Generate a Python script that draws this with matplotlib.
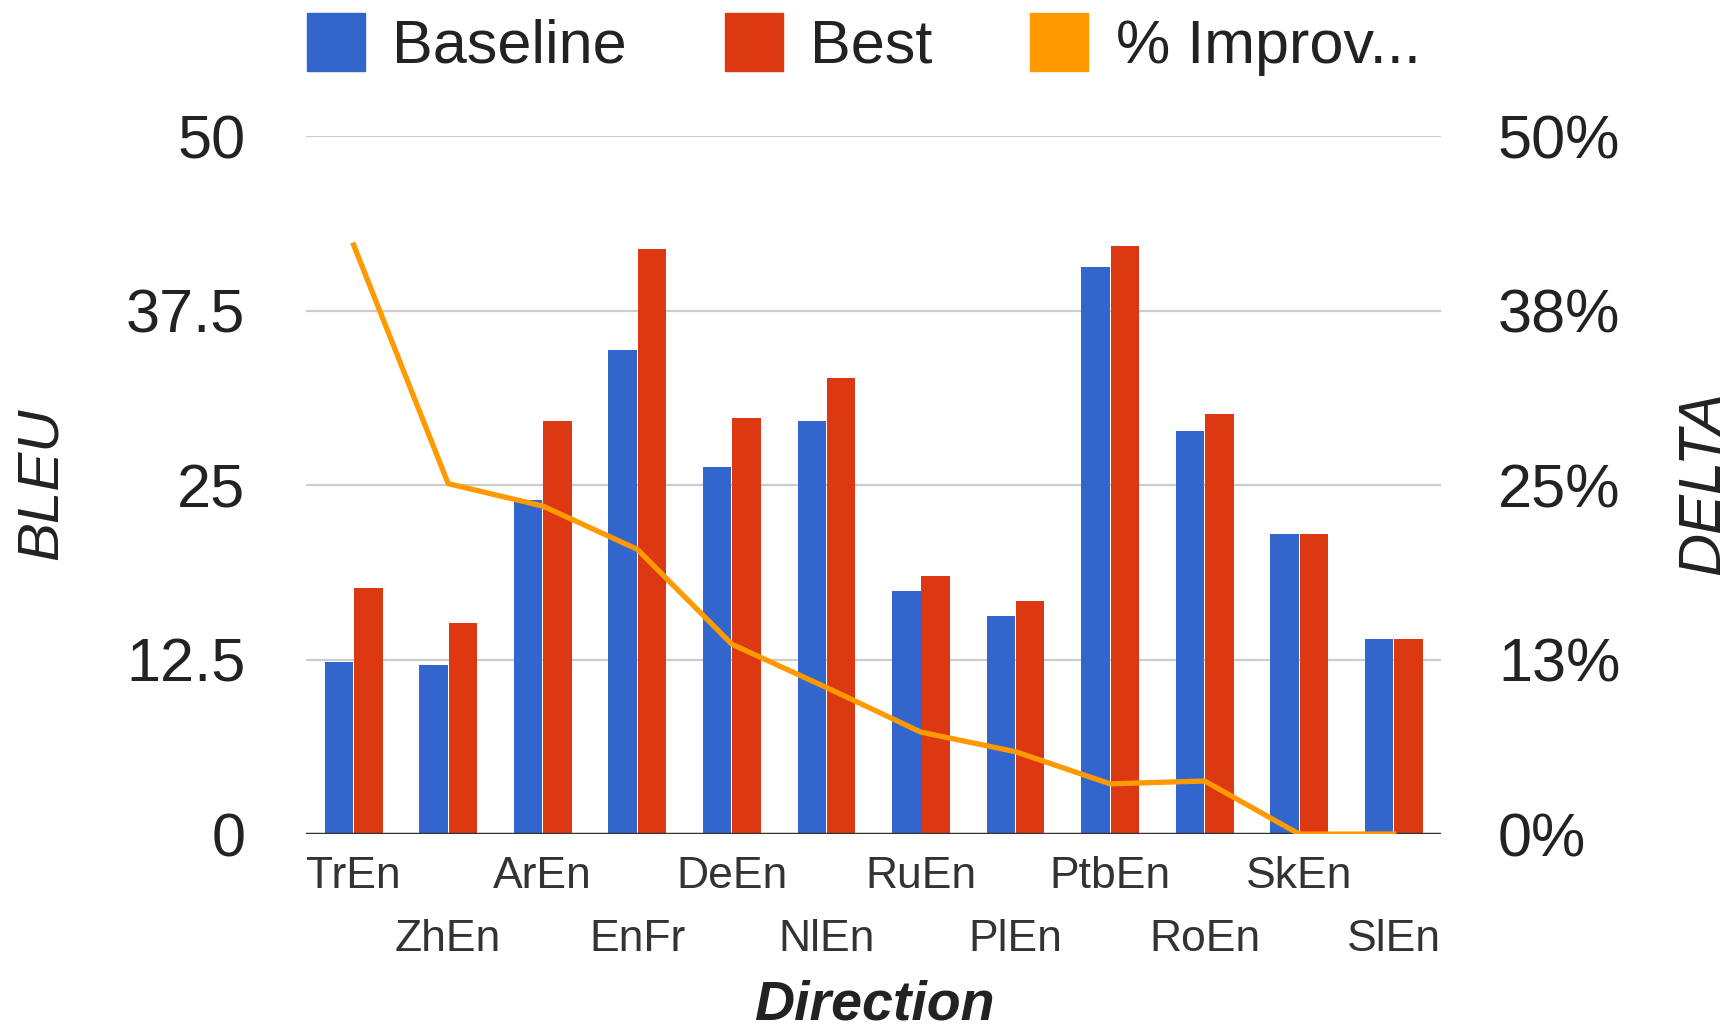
import matplotlib.pyplot as plt
from matplotlib.patches import Patch
import numpy as np

directions = ['TrEn', 'ZhEn', 'ArEn', 'EnFr', 'DeEn', 'NlEn',
              'RuEn', 'PlEn', 'PtbEn', 'RoEn', 'SkEn', 'SlEn']
baseline = [12.3, 12.1, 23.9, 34.7, 26.3, 29.6, 17.4, 15.6, 40.6, 28.9, 21.5, 14.0]
best = [17.6, 15.1, 29.6, 41.9, 29.8, 32.7, 18.5, 16.7, 42.1, 30.1, 21.5, 14.0]
improvement = [42.2, 25.1, 23.5, 20.4, 13.6, 10.5, 7.3, 5.9, 3.6, 3.8, 0.0, 0.0]

left_ticks = [0, 12.5, 25, 37.5, 50]
left_labels = ['0', '12.5', '25', '37.5', '50']
right_labels = ['0%', '13%', '25%', '38%', '50%']

BLUE, RED, ORANGE = '#3366CC', '#DC3912', '#FF9900'
TXT = '#222222'
plt.rcParams['font.family'] = ['Liberation Sans', 'DejaVu Sans']

fig = plt.figure(figsize=(17.31, 10.31), dpi=100)
ax = fig.add_axes([0.177, 0.191, 0.6555, 0.677])

x = np.arange(len(directions))
w = 0.3
ax.bar(x - 0.155, baseline, w, color=BLUE, zorder=2)
ax.bar(x + 0.155, best, w, color=RED, zorder=2)

ax.set_xlim(-0.5, len(directions) - 0.5)
ax.set_ylim(0, 50)
ax.set_yticks(left_ticks)
ax.set_yticklabels(left_labels, fontsize=44, color=TXT)
for v in left_ticks[1:]:
    ax.axhline(v, color='#cccccc', lw=1.6, zorder=1)
ax.axhline(0, color='#333333', lw=2.5, zorder=3)
for s in ax.spines.values():
    s.set_visible(False)
ax.tick_params(axis='y', length=0, pad=44)
ax.tick_params(axis='x', length=0)

ax.set_xticks(x)
ax.set_xticklabels(directions, fontsize=32, color='#333333')
for i, t in enumerate(ax.xaxis.get_major_ticks()):
    t.set_pad(16 if i % 2 == 0 else 61)

ax2 = ax.twinx()
ax2.plot(x, improvement, color=ORANGE, lw=3.8, solid_joinstyle='round', zorder=4)
ax2.set_ylim(0, 50)
ax2.set_yticks(left_ticks)
ax2.set_yticklabels(right_labels, fontsize=44, color=TXT)
ax2.tick_params(axis='y', length=0, pad=41)
for s in ax2.spines.values():
    s.set_visible(False)

fig.text(0.024, 0.531, 'BLEU', rotation=90, fontsize=42, style='italic',
         color=TXT, ha='center', va='center')
fig.text(0.984, 0.531, 'DELTA', rotation=90, fontsize=43, style='italic',
         color=TXT, ha='center', va='center')
fig.text(0.505, 0.025, 'Direction', fontsize=40, style='italic', weight='bold',
         color=TXT, ha='center', va='center')

handles = [Patch(color=BLUE), Patch(color=RED), Patch(color=ORANGE)]
fig.legend(handles, ['Baseline', 'Best', '% Improv...'], loc='center',
           bbox_to_anchor=(0.499, 0.957), ncol=3, frameon=False, fontsize=44,
           handlelength=0.95, handleheight=1.1, handletextpad=0.45,
           columnspacing=1.6, labelcolor=TXT)

fig.savefig('out.png', dpi=100)
